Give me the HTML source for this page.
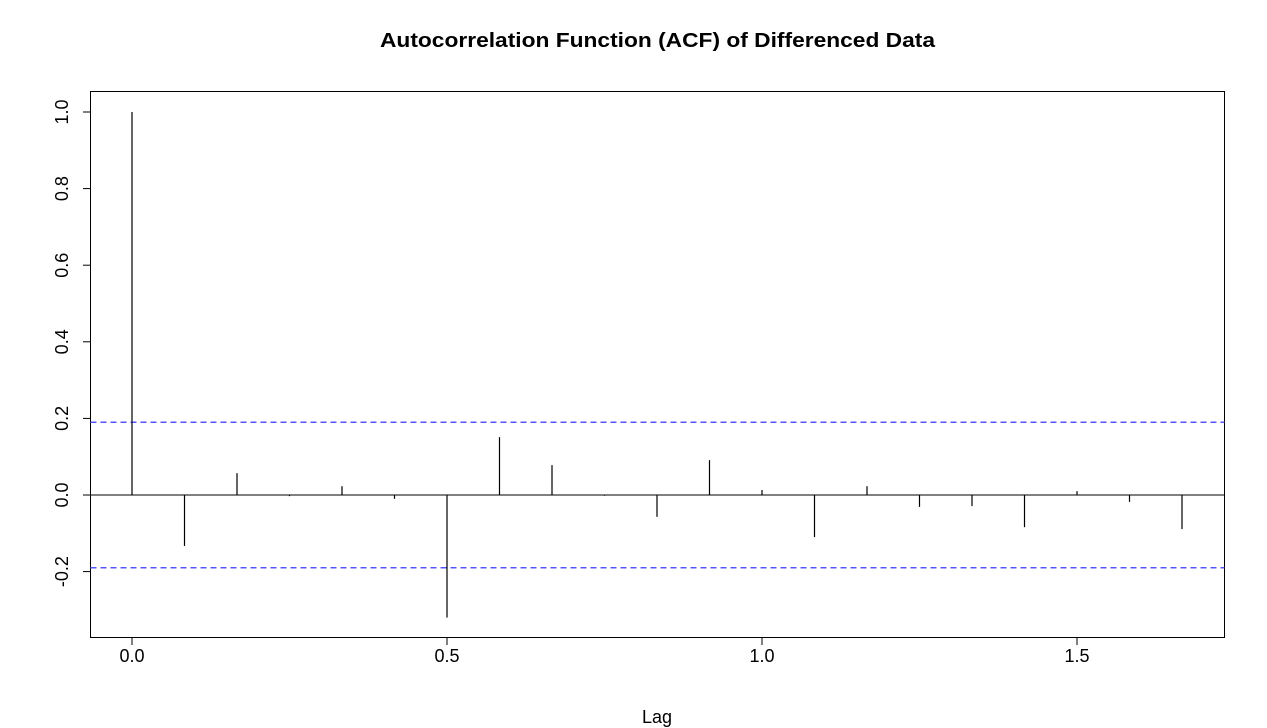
<!DOCTYPE html>
<html><head><meta charset="utf-8"><style>
body{margin:0;background:#fff;}
svg{display:block;font-family:"Liberation Sans",Arial,sans-serif;}
</style></head><body>
<svg id="chart" width="1267" height="728" viewBox="0 0 1267 728">
<text x="380" y="47" textLength="555" lengthAdjust="spacingAndGlyphs" font-size="20" font-weight="bold">Autocorrelation Function (ACF) of Differenced Data</text>
<rect x="90.5" y="91.5" width="1134" height="546" fill="none" stroke="#000" stroke-width="1"/>
<text x="657" y="723" text-anchor="middle" font-size="18">Lag</text>
<g id="marks"></g>
</svg>
<script>
const lags = [0,1,2,3,4,5,6,7,8,9,10,11,12,13,14,15,16,17,18,19,20];
const acfValues = [1.0,-0.133,0.057,-0.003,0.023,-0.01,-0.32,0.151,0.078,-0.002,-0.057,0.091,0.013,-0.11,0.023,-0.031,-0.029,-0.084,0.01,-0.018,-0.089];
const xTicks = [0,0.5,1.0,1.5];
const xTickLabels = ["0.0","0.5","1.0","1.5"];
const yTicks = [-0.2,0,0.2,0.4,0.6,0.8,1.0];
const yTickLabels = ["-0.2","0.0","0.2","0.4","0.6","0.8","1.0"];
const ciBound = [0.19];
const freq = 12;

const xs = v => 132 + v*630;
const ys = v => 495 - v*383;
const NS = "http://www.w3.org/2000/svg";
const g = document.getElementById('marks');
function mk(tag, attrs){const e=document.createElementNS(NS,tag);for(const k in attrs)e.setAttribute(k,attrs[k]);g.appendChild(e);return e;}

let z = mk('line',{x1:90.5,x2:1224.5,y1:ys(0),y2:ys(0),stroke:'#000','stroke-width':1});



[ciBound[0], -ciBound[0]].forEach((c,i)=>{
  const l = mk('line',{x1:90.5,x2:1224.5,y1:ys(c),y2:ys(c),stroke:'#5555ff','stroke-width':1.5,'stroke-dasharray':'6,4'});
  
  
});

lags.forEach((k,i)=>{
  const x = xs(k/freq);
  const l = mk('line',{x1:x,x2:x,y1:ys(0),y2:ys(acfValues[i]),stroke:'#000','stroke-width':1.2});
  
  
});

xTicks.forEach((t,i)=>{
  const x = xs(t);
  const l = mk('line',{x1:x,x2:x,y1:637.5,y2:645,stroke:'#000'});
  
  
  const tx = mk('text',{x:x,y:662,'text-anchor':'middle','font-size':18});
  tx.textContent = xTickLabels[i];
  
  
});

yTicks.forEach((t,i)=>{
  const y = ys(t);
  const l = mk('line',{x1:83,x2:90.5,y1:y,y2:y,stroke:'#000'});
  
  
  const tx = mk('text',{x:68,y:y,'text-anchor':'middle','font-size':18,transform:'rotate(-90 68 '+y+')'});
  tx.textContent = yTickLabels[i];
  
  
});
</script>
</body></html>
